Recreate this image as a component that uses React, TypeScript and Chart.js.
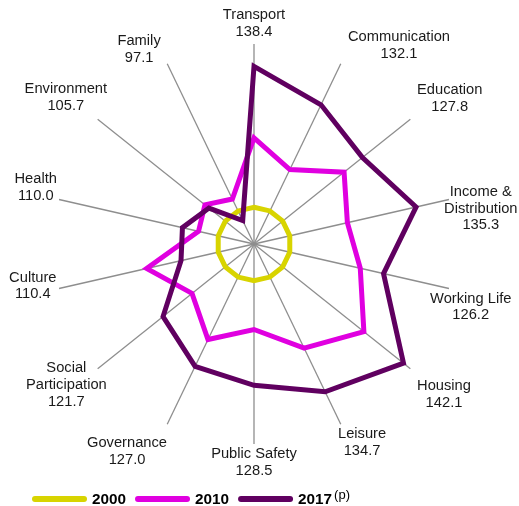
import React, { useEffect, useRef } from "react";
import { Chart, registerables } from "chart.js";

Chart.register(...registerables);

// ---- data ----
const categories: string[][] = [
  ["Transport"],
  ["Communication"],
  ["Education"],
  ["Income &", "Distribution"],
  ["Working Life"],
  ["Housing"],
  ["Leisure"],
  ["Public Safety"],
  ["Governance"],
  ["Social", "Participation"],
  ["Culture"],
  ["Health"],
  ["Environment"],
  ["Family"],
];
const series2000 = [100, 100, 100, 100, 100, 100, 100, 100, 100, 100, 100, 100, 100, 100];
const series2010 = [118.9, 112.5, 121.4, 116.1, 119.7, 128.3, 121.5, 113.3, 118.9, 111.6, 120.0, 105.5, 107.1, 103.6];
const series2017 = [138.4, 132.1, 127.8, 135.3, 126.2, 142.1, 134.7, 128.5, 127.0, 121.7, 110.4, 110.0, 105.7, 97.1];
const seriesNames = ["2000", "2010", "2017"];
const seriesSup = ["", "", "(p)"];

// ---- style / layout ----
const COLORS = ["#d8d400", "#e000e0", "#600060"];
const FONT = "'Liberation Sans', Arial, Helvetica, sans-serif";
const labelNudge: [number, number][] = [
  [0, 2], [4.6, 2.4], [2, -6.6], [-10.8, 16], [-24.8, 13.3], [2, 11.4], [-5.4, -1.9],
  [0, -4.6], [2.4, 6.6], [13.8, -3.5], [3.3, -7.6], [3.8, -6.9], [14.1, -7.5], [-3.9, 6.4],
];

const spokeLabels = {
  id: "spokeLabels",
  afterDraw(chart: any) {
    const scale = chart.scales.r;
    const ctx = chart.ctx as CanvasRenderingContext2D;
    ctx.save();
    ctx.font = `14.7px ${FONT}`;
    ctx.fillStyle = "#1a1a1a";
    ctx.textAlign = "center";
    ctx.textBaseline = "middle";
    const lh = 16.8;
    const pad = 6;
    categories.forEach((cat, i) => {
      const lines = [...cat, series2017[i].toFixed(1)];
      const p = scale.getPointPosition(i, scale.drawingArea);
      const th = p.angle + Math.PI / 2;
      const s = Math.sin(th);
      const c = Math.cos(th);
      const w = Math.max(...lines.map((l) => ctx.measureText(l).width));
      const h = lines.length * lh;
      const sg = Math.abs(s) < 0.01 ? 0 : Math.sign(s);
      const cx = p.x + pad * s + (sg * w) / 2 + labelNudge[i][0];
      const cy = p.y - c * (pad + h / 2) + labelNudge[i][1];
      lines.forEach((l, k) => ctx.fillText(l, cx, cy - h / 2 + lh * (k + 0.5)));
    });
    ctx.restore();
  },
};

const legendPlugin = {
  id: "customLegend",
  afterDraw(chart: any) {
    const ctx = chart.ctx as CanvasRenderingContext2D;
    ctx.save();
    const y = 499;
    let x = 32;
    ctx.textBaseline = "middle";
    ctx.textAlign = "left";
    seriesNames.forEach((name, i) => {
      ctx.strokeStyle = COLORS[i];
      ctx.lineWidth = 6;
      ctx.lineCap = "round";
      ctx.beginPath();
      ctx.moveTo(x + 3, y);
      ctx.lineTo(x + 52, y);
      ctx.stroke();
      x += 60;
      ctx.fillStyle = "#000";
      ctx.font = `bold 15.3px ${FONT}`;
      ctx.fillText(name, x, y + 0.5);
      x += ctx.measureText(name).width;
      if (seriesSup[i]) {
        ctx.font = `13px ${FONT}`;
        ctx.fillText(seriesSup[i], x + 2, y - 4);
        x += ctx.measureText(seriesSup[i]).width + 2;
      }
      x += 9;
    });
    ctx.restore();
  },
};

export default function App() {
  const ref = useRef<HTMLCanvasElement | null>(null);
  useEffect(() => {
    if (!ref.current) return;
    const mk = (label: string, data: number[], color: string, order: number) => ({
      label,
      data,
      borderColor: color,
      backgroundColor: color,
      borderWidth: 5,
      pointRadius: 0,
      pointHoverRadius: 0,
      fill: false,
      order,
    });
    const chart = new Chart(ref.current, {
      type: "radar",
      data: {
        labels: categories,
        datasets: [
          mk(seriesNames[0], series2000, COLORS[0], 3),
          mk(seriesNames[1], series2010, COLORS[1], 2),
          mk(seriesNames[2], series2017, COLORS[2], 1),
        ],
      },
      options: {
        responsive: false,
        animation: false,
        devicePixelRatio: 1,
        layout: { padding: { left: 54, right: 65, top: 44, bottom: 62 } },
        elements: { line: { tension: 0, borderJoinStyle: "miter" } },
        plugins: { legend: { display: false }, tooltip: { enabled: false } },
        scales: {
          r: {
            min: 90,
            max: 144.5,
            ticks: { display: false },
            grid: { display: false },
            angleLines: { display: true, color: "#8e8e8e", lineWidth: 1.3 },
            pointLabels: { display: false },
          },
        },
      } as any,
      plugins: [spokeLabels, legendPlugin],
    });
    return () => chart.destroy();
  }, []);
  return (
    <div style={{ position: "absolute", left: 0, top: 0, width: 519, height: 506, background: "#fff" }}>
      <canvas ref={ref} width={519} height={506} style={{ display: "block" }} />
    </div>
  );
}
